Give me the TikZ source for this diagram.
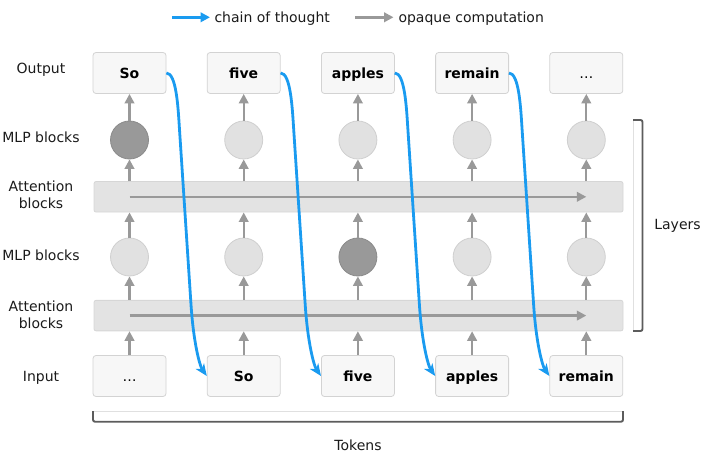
\documentclass[tikz,border=0pt]{standalone}
\usepackage{fontspec}
\setmainfont{DejaVu Sans}
\usetikzlibrary{arrows.meta,calc}
\definecolor{boxfill}{HTML}{F7F7F7}
\definecolor{boxdraw}{HTML}{D3D3D3}
\definecolor{barfill}{HTML}{E3E3E3}
\definecolor{bardraw}{HTML}{D6D6D6}
\definecolor{circfill}{HTML}{E1E1E1}
\definecolor{circdraw}{HTML}{CFCFCF}
\definecolor{darkfill}{HTML}{999999}
\definecolor{darkdraw}{HTML}{8A8A8A}
\definecolor{flowgray}{HTML}{999999}
\definecolor{cotblue}{HTML}{1A9BF0}
\definecolor{brk}{HTML}{5C5C5C}
\definecolor{brklight}{HTML}{E0E0E0}
\definecolor{txt}{HTML}{1A1A1A}
\begin{document}
\begin{tikzpicture}[x=1pt,y=-1pt,
  every node/.style={font=\fontsize{14}{16.6}\selectfont, text=txt},
  tok/.style={draw=boxdraw, fill=boxfill, rounded corners=3pt, minimum width=73pt,
    minimum height=41pt, inner sep=0pt, font=\fontsize{14}{16.6}\selectfont\bfseries,
    text height=10.2pt, text depth=0pt, line width=0.8pt, text=black},
  mlp/.style={circle, draw=circdraw, fill=circfill, minimum size=38pt, inner sep=0pt, line width=0.8pt},
  mlpdark/.style={mlp, draw=darkdraw, fill=darkfill},
  attbar/.style={draw=bardraw, fill=barfill, rounded corners=2pt, minimum width=529pt,
    minimum height=30.5pt, inner sep=0pt, line width=0.8pt},
  flow/.style={draw=flowgray, line width=2.3pt, -{Triangle[length=9.5pt,width=9.5pt]}},
  cot/.style={draw=cotblue, line width=2.8pt, -{Stealth[length=12pt,width=10pt,inset=3.5pt]}},
  legblue/.style={draw=cotblue, line width=2.6pt, -{Triangle[length=9.5pt,width=9.5pt]}},
  leggray/.style={draw=flowgray, line width=2.6pt, -{Triangle[length=9.5pt,width=9.5pt]}},
  lab/.style={anchor=base, align=center},
  bracket/.style={draw=brk, line width=1.9pt, rounded corners=2pt},
  bracketlight/.style={draw=brklight, line width=0.8pt}
]
\useasboundingbox (0,0) rectangle (706,457);

% legend
\coordinate (lb1) at (172,17.3);
\coordinate (lb2) at (210,17.3);
\coordinate (lg1) at (355,17.3);
\coordinate (lg2) at (393.5,17.3);
\draw[legblue] (lb1) -- (lb2);
\draw[leggray] (lg1) -- (lg2);
\node[anchor=base west, inner sep=0pt] (legt1) at (214.3,22.5) {chain of thought};
\node[anchor=base west, inner sep=0pt] (legt2) at (398.3,22.5) {opaque computation};

% row labels
\node[lab] (lout) at (41,74) {Output};
\node[lab] (lmlp1) at (41,142.7) {MLP blocks};
\node[anchor=center, align=center] (latt1) at (41,194.9) {Attention\\blocks};
\node[lab] (lmlp2) at (41,260.7) {MLP blocks};
\node[anchor=center, align=center] (latt2) at (41,314.8) {Attention\\blocks};
\node[lab] (linp) at (41,381.7) {Input};

% attention bars
\node[attbar] (bar1) at (358.5,196.8) {};
\node[attbar] (bar2) at (358.5,315.6) {};

% boxes
\node[tok] (o1) at (129.5,73) {So};
\node[tok] (o2) at (243.7,73) {five};
\node[tok] (o3) at (357.9,73) {apples};
\node[tok] (o4) at (472.1,73) {remain};
\node[tok, font=\fontsize{14}{16.6}\selectfont] (o5) at (586.3,73) {…};

\node[tok, font=\fontsize{14}{16.6}\selectfont] (in1) at (129.5,376) {…};
\node[tok] (in2) at (243.7,376) {So};
\node[tok] (in3) at (357.9,376) {five};
\node[tok] (in4) at (472.1,376) {apples};
\node[tok] (in5) at (586.3,376) {remain};

% MLP circles
\node[mlpdark] (a1) at (129.5,140) {};
\node[mlp] (a2) at (243.7,140) {};
\node[mlp] (a3) at (357.9,140) {};
\node[mlp] (a4) at (472.1,140) {};
\node[mlp] (a5) at (586.3,140) {};

\node[mlp] (b1) at (129.5,257) {};
\node[mlp] (b2) at (243.7,257) {};
\node[mlpdark] (b3) at (357.9,257) {};
\node[mlp] (b4) at (472.1,257) {};
\node[mlp] (b5) at (586.3,257) {};

% vertical flow
\foreach \i in {1,...,5}{
  \draw[flow] (in\i.north) -- (in\i.north |- bar2.south);
  \draw[flow] (in\i.north |- bar2.north) -- (b\i.south);
  \draw[flow] (b\i.north) -- (b\i.north |- bar1.south);
  \draw[flow] (b\i.north |- bar1.north) -- (a\i.south);
  \draw[flow] (a\i.north) -- (o\i.south);
}

% horizontal flow in attention bars
\draw[flow] (in1.north |- bar1.center) -- (in5.north |- bar1.center);
\draw[flow] (in1.north |- bar2.center) -- (in5.north |- bar2.center);

% brackets
\draw[bracketlight] (633,120) -- (633,331);
\draw[bracket] (633,120) -- (642.5,120) -- (642.5,331) -- (633,331);
\node[lab] (llayers) at (677.5,229) {Layers};
\draw[bracketlight] (93,411) -- (623,411);
\draw[bracket] (93,411) -- (93,421.7) -- (623,421.7) -- (623,411);
\node[lab] (ltokens) at (358,450) {Tokens};

% chain of thought
\foreach \i/\j in {1/2,2/3,3/4,4/5}{
  \draw[cot] (o\i.east) .. controls ($(o\i.east)+(10,0)$) and ($(o\i.east)+(11.7,35)$) ..
    ($(o\i.east)+(13,55)$) -- ($(o\i.east)+(24.5,230)$)
    .. controls ($(o\i.east)+(27,270)$) and ($(in\j.west)+(-7,-10)$) .. (in\j.west);
}
\end{tikzpicture}
\end{document}
